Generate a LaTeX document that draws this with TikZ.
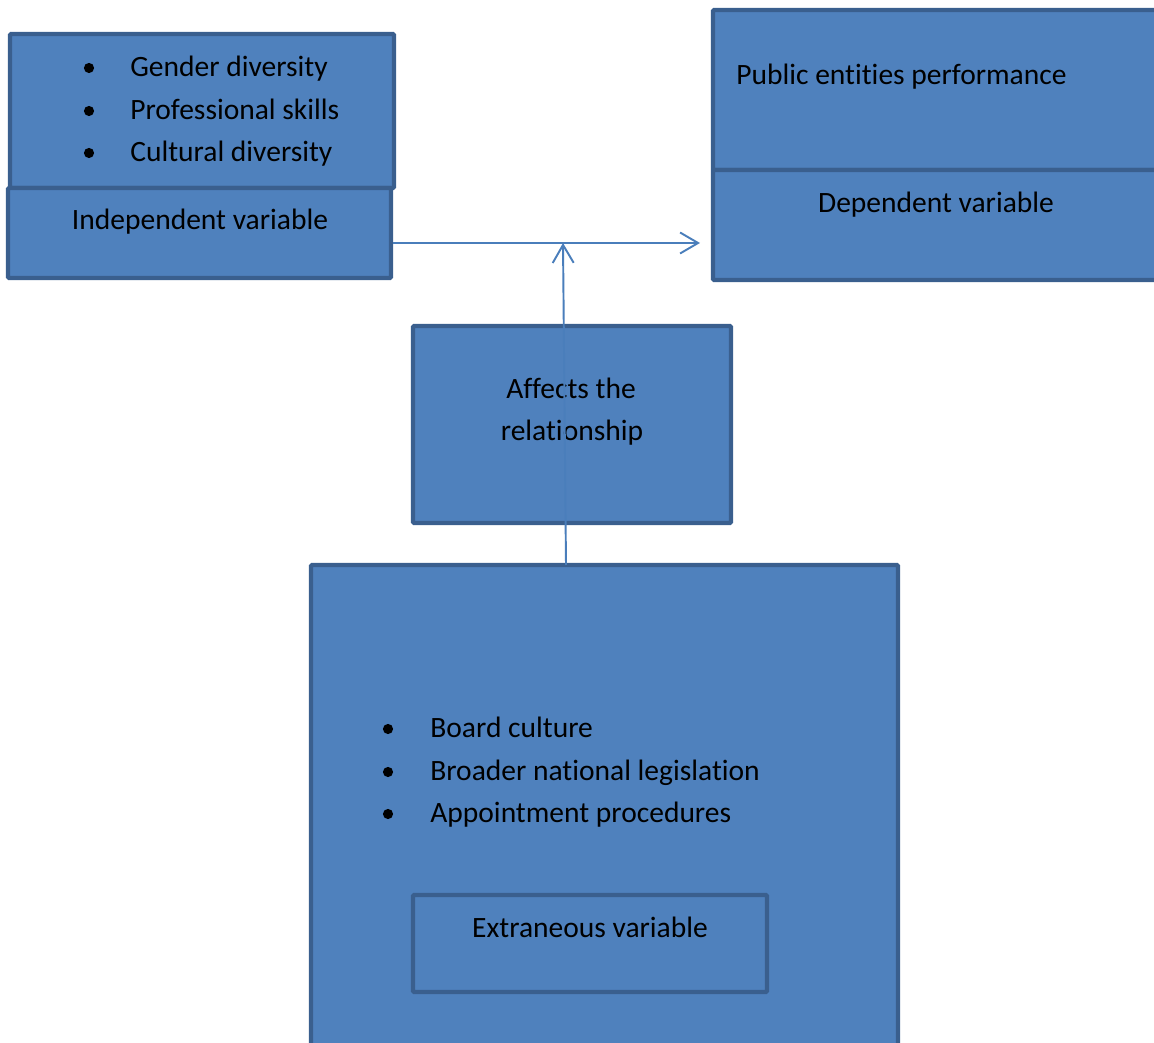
\documentclass[tikz,border=0pt]{standalone}
\usepackage{fontspec}
\setmainfont{Carlito}[Ligatures=NoCommon]
\usetikzlibrary{arrows.meta,positioning,fit}
\definecolor{boxfill}{HTML}{4F81BD}
\definecolor{boxedge}{HTML}{3A5F8E}
\definecolor{linkblue}{HTML}{4A7EBB}
\tikzset{
  varbox/.style={draw=boxedge, fill=boxfill, line width=2.3pt, inner sep=0pt, rounded corners=0.6pt},
  lbl/.style={font=\fontsize{16.8}{24}\selectfont, inner sep=0pt, anchor=base},
  link/.style={draw=linkblue, line width=1.1pt, -{Straight Barb[length=3.6mm,width=4.2mm]}}
}

\begin{document}
\begin{tikzpicture}[x=0.02cm,y=-0.02cm]
\useasboundingbox (0,0) rectangle (1154,1043);
% independent side
\node[varbox, fit={(10,34) (394,188)}] (inlist) {};
\node[varbox, fit={(8,188) (391,278)}] (indep) {};
\foreach \yy/\txt [count=\i] in {77/Gender diversity,120/Professional skills,162/Cultural diversity}{
  \fill (89,\yy-9) circle (2.9pt);
  \node[lbl, anchor=base west] (initem\i) at (130,\yy) {\txt};
}
\node[lbl] (indeptext) at (200,230) {Independent variable};
% dependent side
\node[varbox, fit={(713,10) (1175,170)}] (perf) {};
\node[varbox, fit={(713,170) (1175,280)}] (dep) {};
\node[lbl, anchor=base west] (perftext) at (736,85) {Public entities performance};
\node[lbl] (deptext) at (936,213) {Dependent variable};
% moderator
\node[varbox, fit={(413,326) (731,523)}] (affect) {};
\node[lbl] (affecttop) at (571,399) {Affects the};
\node[lbl] (affectbot) at (572,441) {relationship};
% extraneous
\node[varbox, fit={(311,565) (898,1085)}] (extra) {};
\foreach \yy/\txt [count=\i] in {738/Board culture,781/Broader national legislation,823/Appointment procedures}{
  \fill (388,\yy-9) circle (2.9pt);
  \node[lbl, anchor=base west] (exitem\i) at (430,\yy) {\txt};
}
\node[varbox, fit={(413,895) (767,992)}] (extrainner) {};
\node[lbl] (extratext) at (590,938) {Extraneous variable};
% connectors
\coordinate (junction) at (563,243);
\coordinate (arrowend) at (700,243);
\coordinate (risefoot) at (566,565);
\draw[link] (indep.east |- junction) -- (arrowend);
\draw[link] (risefoot) -- (junction);
\end{tikzpicture}
\end{document}
